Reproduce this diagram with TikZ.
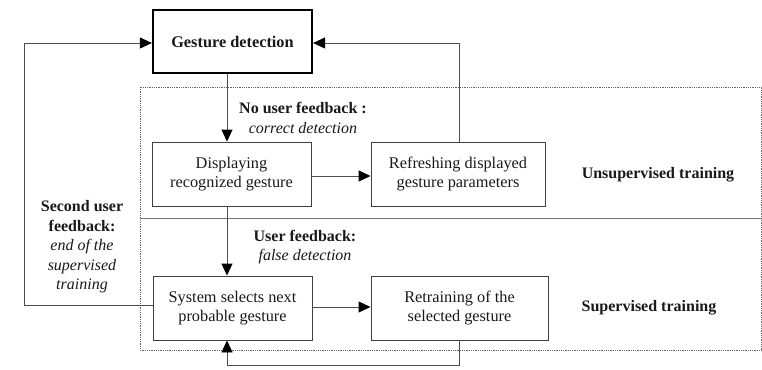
\documentclass[tikz,border=0pt]{standalone}
\usepackage{fontspec}
\setmainfont{Liberation Serif}
\usetikzlibrary{arrows.meta}
\begin{document}
\begin{tikzpicture}[x=1pt,y=-1pt,
  box/.style={draw=black!75,line width=0.9pt,rectangle,inner sep=0pt,align=center,font=\fontsize{16.3}{19.5}\selectfont,text=black!90},
  arr/.style={draw=black!70,line width=0.9pt,-{Triangle[length=12pt,width=11pt,fill=black,color=black]}},
  lbl/.style={align=center,font=\fontsize{16}{19.5}\selectfont,text=black!90,inner sep=0pt}]
\useasboundingbox (0,0) rectangle (762,369);
% zones
\draw[black!60,densely dotted,line width=0.8pt] (140,87) rectangle (761,350);
\draw[black!55,line width=0.8pt] (140,218) -- (761,218);
% boxes
\node[box,line width=2.2pt,draw=black,minimum width=159pt,minimum height=63pt,font=\fontsize{16.3}{19.5}\selectfont\bfseries] (gd) at (232.5,41.5) {Gesture detection};
\node[box,minimum width=159pt,minimum height=64pt] (disp) at (231.5,174) {Displaying\\recognized gesture};
\node[box,minimum width=174pt,minimum height=64pt] (refr) at (458,174) {Refreshing displayed\\gesture parameters};
\node[box,minimum width=159pt,minimum height=64pt] (sys) at (232.5,308) {System selects next\\probable gesture};
\node[box,minimum width=177pt,minimum height=64pt] (retr) at (459.5,308) {Retraining of the\\selected gesture};
% coordinates
\coordinate (cx) at (227,0);
\coordinate (lb) at (24,305);
\coordinate (lt) at (24,43);
\coordinate (rt) at (459,43);
\coordinate (bl) at (227,365);
\coordinate (br) at (459,365);
% connectors
\draw[arr] (gd.south -| cx) -- (disp.north -| cx);
\draw[arr] (disp.south -| cx) -- (sys.north -| cx);
\draw[arr] (disp.east |- 0,176) -- (refr.west |- 0,176);
\draw[arr] (sys.east |- 0,307) -- (retr.west |- 0,307);
\draw[arr] (sys.west |- lb) -- (lb) -- (lt) -- (gd.west |- lt);
\draw[arr] (refr.north -| rt) -- (rt) -- (gd.east |- rt);
\draw[arr] (retr.south -| br) -- (br) -- (bl) -- (sys.south -| bl);
% labels
\node[lbl] (l1) at (303,118) {\textbf{No user feedback :}\\\textit{correct detection}};
\node[lbl] (l2) at (305,247) {\textbf{User feedback:}\\\textit{false detection}};
\node[lbl] (l3) at (82,247) {\textbf{Second user}\\\textbf{feedback:}\\\textit{end of the}\\\textit{supervised}\\\textit{training}};
\node[lbl,font=\fontsize{16}{19}\selectfont\bfseries] (u) at (658,175) {Unsupervised training};
\node[lbl,font=\fontsize{16}{19}\selectfont\bfseries] (s) at (649,308) {Supervised training};
\end{tikzpicture}
\end{document}
